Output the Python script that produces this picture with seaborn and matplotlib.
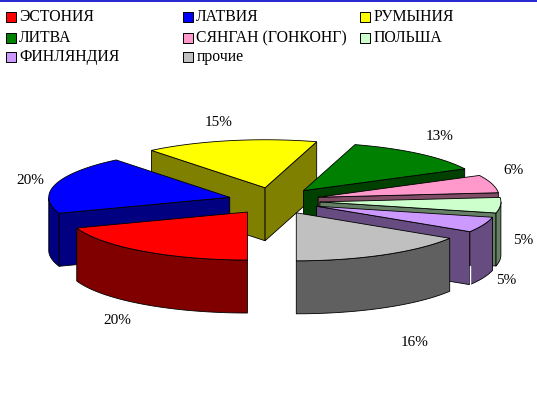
import numpy as np
import matplotlib
matplotlib.use("Agg")
import matplotlib.pyplot as plt
import seaborn as sns

countries = ["ЭСТОНИЯ", "ЛАТВИЯ", "РУМЫНИЯ", "ЛИТВА", "СЯНГАН (ГОНКОНГ)", "ПОЛЬША", "ФИНЛЯНДИЯ", "прочие"]
shares = [19.6, 19.6, 15.4, 12.9, 6.0, 5.2, 5.2, 16.1]
top_colors = ["#FF0000", "#0000FF", "#FFFF00", "#008000", "#FF99CC", "#CCFFCC", "#CC99FF", "#C0C0C0"]
side_colors = ["#800000", "#000080", "#808000", "#004000", "#804C66", "#668066", "#664C80", "#606060"]

# pie projection, in pixels
cx, cy = 274, 201
rx, ry = 181, 48
depth = 53
explode_x, explode_y = 46, 13.5
draw_order = [2, 3, 4, 5, 1, 6, 0, 7]
label_xy = [(117, 320), (30, 180), (219, 123), (440, 137), (514, 170), (523, 240), (506, 280), (415, 342)]

sns.set_theme(style="white")
plt.rcParams["font.family"] = ["Liberation Serif", "DejaVu Serif"]

fig = plt.figure(figsize=(5.37, 4.0), dpi=100)
ax = fig.add_axes([0, 0, 1, 1])
ax.set_xlim(0, 537)
ax.set_ylim(400, 0)
ax.axis("off")
ax.axhline(0.5, color="#0000C8", lw=1.2)

top_pal = sns.color_palette(top_colors)
side_pal = sns.color_palette(side_colors)


def rim(ax0, ay0, angles):
    return ax0 - rx * np.sin(angles), ay0 + ry * np.cos(angles)


edges = np.radians(np.cumsum([0] + shares) * 3.6)

for i in draw_order:
    a0, a1 = edges[i], edges[i + 1]
    mid = (a0 + a1) / 2
    ox = cx - explode_x * np.sin(mid)
    oy = cy + explode_y * np.cos(mid)

    # cut faces, only those turned towards the viewer
    for a, normal in ((a0, a0 - np.pi / 2), (a1, a1 + np.pi / 2)):
        if np.cos(normal) <= 1e-6:
            continue
        ex, ey = rim(ox, oy, a)
        ax.fill([ox, ex, ex, ox], [oy, ey, ey + depth, oy + depth], color=side_pal[i], ec="black", lw=0.6)

    # outer wall, same
    ang = np.linspace(a0, a1, 80)
    ang = ang[np.cos(ang) >= 0]
    if len(ang) > 1:
        wx, wy = rim(ox, oy, ang)
        ax.fill(np.r_[wx, wx[::-1]], np.r_[wy, wy[::-1] + depth], color=side_pal[i], ec="black", lw=0.6)

    # top
    ang = np.linspace(a0, a1, 80)
    tx, ty = rim(ox, oy, ang)
    ax.fill(np.r_[ox, tx], np.r_[oy, ty], color=top_pal[i], ec="black", lw=0.6)

    # the finland slice has a light seam at its corner
    if countries[i] == "ФИНЛЯНДИЯ":
        ex, ey = rim(ox, oy, a1)
        ax.plot([ex, ex], [ey + 0.65 * depth, ey + depth + 1], color="white", lw=1)

    ax.text(label_xy[i][0], label_xy[i][1], f"{shares[i]:.0f}%", fontsize=11, color="black", ha="center", va="center")

# legend
legend_rows = [17, 38, 57]
for i, name in enumerate(countries):
    col, row = i % 3, i // 3
    x = 6 + 177.3 * col
    y = legend_rows[row]
    ax.scatter([x + 4.5], [y], marker="s", s=45, color=top_pal[i], edgecolor="black", lw=0.7)
    ax.text(x + 13, y, name, fontsize=11.3, color="black", ha="left", va="center")

fig.savefig("out.png", dpi=100)
